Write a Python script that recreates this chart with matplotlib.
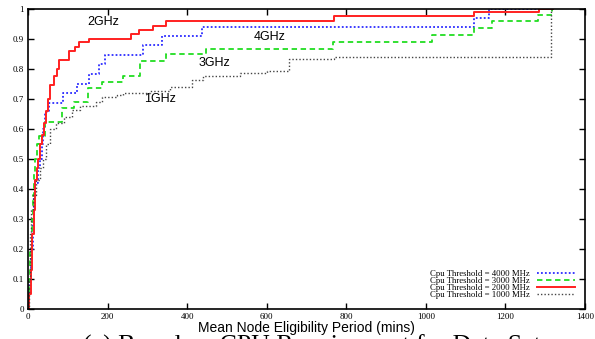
import matplotlib

matplotlib.use("Agg")
import matplotlib.pyplot as plt

# eligibility period (mins) at which each CDF steps up, and the level after the step
x_4000 = [0, 3, 7, 12, 15, 18, 25, 30, 35, 38, 42, 53, 87, 122, 154, 178, 194, 288, 338, 438, 1120, 1159]
y_4000 = [0, 0.10, 0.20, 0.30, 0.38, 0.42, 0.47, 0.50, 0.55, 0.60, 0.656, 0.688, 0.721, 0.752, 0.783, 0.817, 0.847, 0.879, 0.911, 0.939, 0.971, 1.0]

x_3000 = [0, 2, 5, 9, 12, 15, 18, 22, 27, 42, 85, 116, 151, 186, 238, 281, 348, 447, 766, 1015, 1122, 1166, 1283, 1316]
y_3000 = [0, 0.10, 0.20, 0.30, 0.38, 0.45, 0.50, 0.55, 0.577, 0.622, 0.669, 0.691, 0.736, 0.758, 0.778, 0.826, 0.849, 0.868, 0.891, 0.914, 0.936, 0.959, 0.981, 1.0]

x_2000 = [0, 3, 8, 11, 14, 17, 22, 26, 30, 35, 40, 45, 50, 55, 66, 72, 77, 104, 118, 129, 154, 258, 280, 313, 348, 769, 1122, 1285]
y_2000 = [0, 0.05, 0.13, 0.25, 0.33, 0.43, 0.47, 0.50, 0.55, 0.58, 0.62, 0.66, 0.70, 0.747, 0.777, 0.802, 0.832, 0.861, 0.874, 0.889, 0.902, 0.918, 0.93, 0.944, 0.96, 0.976, 0.989, 1.0]

x_1000 = [0, 2, 5, 8, 12, 20, 30, 38, 45, 55, 70, 90, 110, 130, 172, 185, 223, 239, 306, 356, 411, 440, 532, 600, 655, 769, 1314]
y_1000 = [0, 0.10, 0.25, 0.33, 0.38, 0.43, 0.47, 0.50, 0.55, 0.60, 0.62, 0.64, 0.663, 0.677, 0.691, 0.706, 0.713, 0.719, 0.728, 0.741, 0.763, 0.777, 0.788, 0.794, 0.834, 0.841, 1.0]

x_max = 1320

series = [
    ("Cpu Threshold = 4000 MHz", x_4000, y_4000, "#2b2bff", (0, (1, 1.2)), 1.3),
    ("Cpu Threshold = 3000 MHz", x_3000, y_3000, "#22dd22", (0, (3, 2)), 1.3),
    ("Cpu Threshold = 2000 MHz", x_2000, y_2000, "#ff2020", "-", 1.4),
    ("Cpu Threshold = 1000 MHz", x_1000, y_1000, "#444444", (0, (1, 1.5)), 1.0),
]

curve_labels = [("2GHz", 188, 0.957), ("4GHz", 607, 0.908), ("3GHz", 469, 0.819), ("1GHz", 331, 0.699)]

fig = plt.figure(figsize=(5.95, 3.39), dpi=100)
ax = fig.add_axes([0.0471, 0.0885, 0.9360, 0.8845])

for name, xs, ys, color, ls, lw in series:
    ax.plot(xs + [x_max], ys + [ys[-1]], drawstyle="steps-post", color=color,
            linestyle=ls, linewidth=lw, label=name)

for text, tx, ty in curve_labels:
    ax.text(tx, ty, text, ha="center", va="center", fontsize=9, family="Liberation Sans")

ax.set_xlim(0, 1400)
ax.set_ylim(0, 1)
ax.set_xticks(range(0, 1401, 200))
ax.set_yticks([i / 10 for i in range(11)])
ax.set_yticklabels(["0", "0.1", "0.2", "0.3", "0.4", "0.5", "0.6", "0.7", "0.8", "0.9", "1"])
ax.tick_params(direction="in", top=True, right=True, length=4, width=1, labelsize=6.5, pad=3)
for lbl in ax.get_xticklabels() + ax.get_yticklabels():
    lbl.set_family("Liberation Serif")
for sp in ax.spines.values():
    sp.set_linewidth(1.2)

ax.set_xlabel("Mean Node Eligibility Period (mins)", family="Liberation Sans", fontsize=10, labelpad=0)

leg = ax.legend(loc="lower right", frameon=False, markerfirst=False,
                prop={"family": "Liberation Serif", "size": 6.3}, handlelength=4.4,
                labelspacing=-0.12, borderaxespad=0.9, handletextpad=0.8, borderpad=0.2)

# figure caption, mostly below the bottom edge
fig.text(0.533, 1 - 335 / 339, "(a) Based on CPU Requirement for Data Sets", ha="center", va="top",
         family="Liberation Serif", fontsize=18.5)

fig.savefig("out.png", dpi=100)
